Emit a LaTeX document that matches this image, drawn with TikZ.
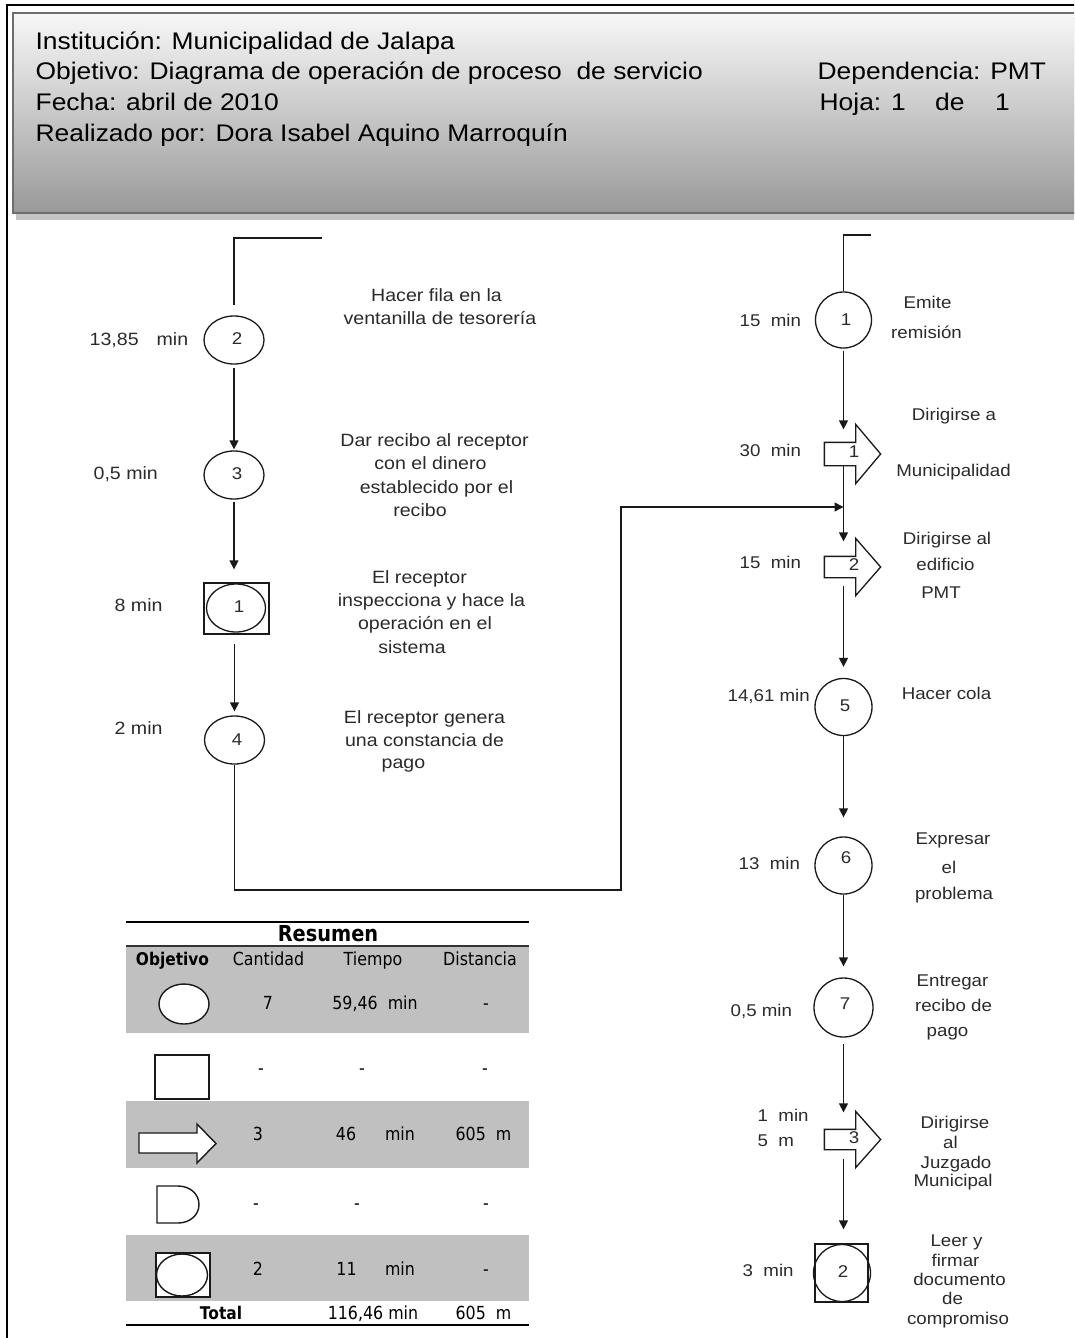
\documentclass[tikz,border=0pt]{standalone}
\usepackage{fontspec}
\setmainfont{Liberation Sans}[FakeStretch=1.1]
\newfontfamily\tabfont{DejaVu Sans}[FakeStretch=0.88]
\usetikzlibrary{shapes.geometric,arrows.meta,calc}

\definecolor{bandgray}{HTML}{C0C0C0}
\definecolor{ink}{HTML}{2A2A2A}

% block arrow (transport symbol): name, x, y, shaft height, number
\newcommand{\moveblock}[5]{%
  \node[shaft, minimum height=#4] (#1) at (#2,#3) {};
  \draw (#1.north east) -- (#1.north west) -- (#1.south west) -- (#1.south east)
        -- ++(0,18) -- ($(#1.east)+(25,0)$) -- ($(#1.north east)+(0,-18)$) -- cycle;
  \node[num] (#1n) at ($(#1.center)+(14,-2)$) {#5};
}

\begin{document}
\begin{tikzpicture}[x=1pt,y=-1pt,
  line width=1.3pt, draw=black!90,
  arr/.style={-{Triangle[length=9pt,width=9pt]}},
  oval/.style={ellipse,draw,minimum width=60pt,minimum height=48pt,inner sep=0pt},
  rnd/.style={circle,draw,minimum size=56pt,inner sep=0pt},
  boxop/.style={rectangle,draw,inner sep=0pt},
  shaft/.style={rectangle,minimum width=30pt,inner sep=0pt},
  num/.style={font=\fontsize{17}{20}\selectfont,inner sep=0pt,text=ink},
  hd/.style={font=\fontsize{24}{28}\selectfont,inner sep=0pt,anchor=base west},
  ldesc/.style={font=\fontsize{17.8}{21}\selectfont,inner sep=0pt,anchor=base,text=ink},
  rdesc/.style={font=\fontsize{17}{20}\selectfont,inner sep=0pt,anchor=base,text=ink},
  ltime/.style={font=\fontsize{17.8}{21}\selectfont,inner sep=0pt,anchor=base west,text=ink},
  rtime/.style={font=\fontsize{17}{20}\selectfont,inner sep=0pt,anchor=base west,text=ink},
  tb/.style={font=\tabfont\fontsize{18}{20}\selectfont,inner sep=0pt,anchor=base},
  tbb/.style={font=\tabfont\bfseries\fontsize{17.5}{20}\selectfont,inner sep=0pt,anchor=base},
  sym/.style={fill=white,line width=1.4pt}
]
\useasboundingbox (0,0) rectangle (1074,1338);
\clip (0,0) rectangle (1074,1338);

% ---------- page frame ----------
\draw[line width=2pt,black] (6.5,1345) -- (6.5,5) -- (1090,5);

% ---------- title block ----------
\fill[black!23] (16,17) rectangle (1090,219.5);
\shadedraw[top color=white!97!black, bottom color=black!40, draw=black!57, line width=2pt]
  (12.5,13) rectangle (1090,213);
\node[hd] (h1) at (35,49) {Institución: Municipalidad de Jalapa};
\node[hd] (h2) at (35,80) {Objetivo: Diagrama de operación de proceso\ \ de servicio};
\node[hd] (h3) at (35,110.5) {Fecha: abril de 2010};
\node[hd] (h4) at (35,141) {Realizado por: Dora Isabel Aquino Marroquín};
\node[hd] (h5) at (817,80) {Dependencia: PMT};
\node[hd] (h6) at (819,110.5) {Hoja: 1\hspace{29.5pt}de\hspace{30.5pt}1};

% ---------- left column ----------
\coordinate (ltop) at (322,238);
\node[oval] (l2) at (234,340) {};
\node[num] (l2n) at (237,339) {2};
\node[oval] (l3) at (234,475) {};
\node[num] (l3n) at (237,474) {3};
\node[boxop, minimum width=65pt, minimum height=51pt] (lsq) at (236.5,608.5) {};
\node[oval, minimum width=59pt, minimum height=48pt] (lsqc) at (236,608) {};
\node[num] (lsqn) at (239,607) {1};
\node[oval] (l4) at (234.5,740) {};
\node[num] (l4n) at (237,740) {4};
\coordinate (lbend) at (621,890);
\coordinate (join) at (843.5,507);

\draw[shorten >=10pt] (ltop) -| (l2.north);
\draw[arr, shorten <=3pt, shorten >=1pt] (l2.south) -- (l3.north);
\draw[arr, shorten <=2pt, shorten >=13pt] (l3.south) -- (l3.south |- lsq.north);
\draw[arr, shorten <=9pt, shorten >=4pt] (l4.north |- lsq.south) -- (l4.north);
\draw[arr] (l4.south) |- (lbend) |- (join);

\node[ltime] (tl2a) at (89,345) {13,85};
\node[ltime] (tl2b) at (156,345) {min};
\node[ltime] (tl3) at (93,479) {0,5 min};
\node[ltime] (tl1) at (114,611) {8 min};
\node[ltime] (tl4) at (114,734) {2 min};

\node[ldesc] (d1a) at (436.5,301) {Hacer fila en la};
\node[ldesc] (d1b) at (440,324) {ventanilla de tesorería};
\node[ldesc] (d2a) at (434.5,446) {Dar recibo al receptor};
\node[ldesc] (d2b) at (430.5,469) {con el dinero};
\node[ldesc] (d2c) at (436.5,493) {establecido por el};
\node[ldesc] (d2d) at (420,516) {recibo};
\node[ldesc] (d3a) at (419.5,583) {El receptor};
\node[ldesc] (d3b) at (431.5,606) {inspecciona y hace la};
\node[ldesc] (d3c) at (425,629) {operación en el};
\node[ldesc] (d3d) at (412,653) {sistema};
\node[ldesc] (d4a) at (424.5,723) {El receptor genera};
\node[ldesc] (d4b) at (424.5,746) {una constancia de};
\node[ldesc] (d4c) at (403.5,768) {pago};

% ---------- right column ----------
\coordinate (rtop) at (871,235);
\node[rnd] (r1) at (843.5,320) {};
\node[num] (r1n) at (846,320) {1};
\moveblock{t1}{840}{454}{22pt}{1}
\moveblock{t2}{840}{567}{20pt}{2}
\node[rnd, minimum size=57pt] (r5) at (843.5,707) {};
\node[num] (r5n) at (845,706) {5};
\node[rnd, minimum size=57pt] (r6) at (843.5,865.5) {};
\node[num] (r6n) at (846,858) {6};
\node[rnd, minimum size=59pt] (r7) at (843.5,1007.5) {};
\node[num] (r7n) at (845,1004) {7};
\moveblock{t3}{840}{1139.5}{19pt}{3}
\node[boxop, minimum width=53pt, minimum height=58pt] (rsq) at (841.5,1273) {};
\node[rnd, minimum size=57pt] (rsqc) at (842,1273) {};
\node[num] (rsqn) at (843,1272) {2};

\draw (rtop) -| (r1.north);
\draw[arr, shorten <=2pt, shorten >=13pt] (r1.south) -- (r1.south |- t1.north);
\draw[arr, shorten >=15pt] (t1.south -| r1.center) -- (t2.north -| r1.center);
\draw[arr, shorten <=8pt, shorten >=11pt] (t2.south -| r5.center) -- (r5.north);
\draw[arr, shorten >=19pt] (r5.south) -- (r6.north);
\draw[arr, shorten >=11pt] (r6.south) -- (r7.north);
\draw[arr, shorten <=6pt, shorten >=17pt] (r7.south) -- (r7.south |- t3.north);
\draw[arr, shorten <=9pt, shorten >=14pt] (t3.south -| r7.center) -- (r7.center |- rsq.north);

\node[rtime] (tr1) at (739,326) {15\ \ min};
\node[rtime] (tr2) at (739,456) {30\ \ min};
\node[rtime] (tr3) at (739,568) {15\ \ min};
\node[rtime] (tr4) at (727,701) {14,61 min};
\node[rtime] (tr5) at (738,869) {13\ \ min};
\node[rtime] (tr6) at (730,1016) {0,5 min};
\node[rtime] (tr7a) at (757,1121) {1\ \ min};
\node[rtime] (tr7b) at (757,1146) {5\ \ m};
\node[rtime] (tr8) at (742,1276) {3\ \ min};

\node[rdesc] (e1a) at (927.5,308) {Emite};
\node[rdesc] (e1b) at (926.5,338) {remisión};
\node[rdesc] (e2a) at (954,420) {Dirigirse a};
\node[rdesc] (e2b) at (953.5,476) {Municipalidad};
\node[rdesc] (e3a) at (947,544) {Dirigirse al};
\node[rdesc] (e3b) at (945.5,570) {edificio};
\node[rdesc] (e3c) at (941,598) {PMT};
\node[rdesc] (e4) at (946.5,699) {Hacer cola};
\node[rdesc] (e5a) at (953,844) {Expresar};
\node[rdesc] (e5b) at (949,873) {el};
\node[rdesc] (e5c) at (954,899) {problema};
\node[rdesc] (e6a) at (952.5,986) {Entregar};
\node[rdesc] (e6b) at (953.5,1011) {recibo de};
\node[rdesc] (e6c) at (947.5,1036) {pago};
\node[rdesc] (e7a) at (955,1128) {Dirigirse};
\node[rdesc] (e7b) at (950.5,1148) {al};
\node[rdesc] (e7c) at (956,1168) {Juzgado};
\node[rdesc] (e7d) at (953,1186) {Municipal};
\node[rdesc] (e8a) at (956.5,1246) {Leer y};
\node[rdesc] (e8b) at (955.5,1266) {firmar};
\node[rdesc] (e8c) at (959.5,1285) {documento};
\node[rdesc] (e8d) at (952.5,1304) {de};
\node[rdesc] (e8e) at (958,1324) {compromiso};

% ---------- summary table ----------
\fill[bandgray] (126,946) rectangle (529,1033);
\fill[bandgray] (126,1101) rectangle (529,1168);
\fill[bandgray] (126,1235) rectangle (529,1301);
\draw[line width=1.5pt,black] (126,922) -- (529,922);
\draw[line width=2pt,black!80] (126,946) -- (529,946);
\draw[line width=2pt,black] (126,1325) -- (529,1325);

\node[font=\tabfont\bfseries\fontsize{22}{24}\selectfont,inner sep=0pt,anchor=base] (res) at (328,941) {Resumen};
\node[tbb] (c1) at (172.5,965.5) {Objetivo};
\node[tb] (c2) at (268.5,965.5) {Cantidad};
\node[tb] (c3) at (373,965.5) {Tiempo};
\node[tb] (c4) at (480,965.5) {Distancia};

% row symbols
\filldraw[sym] (184,1004) ellipse [x radius=25, y radius=20];
\filldraw[sym] (155,1055) rectangle (209,1099);
\filldraw[sym] (139,1133) -- (197,1133) -- (197,1124) -- (216,1143.5) -- (197,1163) -- (197,1153) -- (139,1153) -- cycle;
\filldraw[sym] (157,1186) -- (178,1186) .. controls (190,1186) and (199,1194) .. (199,1204.5)
   .. controls (199,1215) and (190,1223) .. (178,1223) -- (157,1223) -- cycle;
\filldraw[sym] (156,1253) rectangle (210,1297);
\draw[line width=1.4pt] (182,1275) ellipse [x radius=25.5, y radius=21];

\node[tb] (v11) at (268,1009.5) {7};
\node[tb] (v12) at (375,1009.5) {59,46\ \ min};
\node[tb] (v13) at (486,1009.5) {-};
\node[tb] (v21) at (261,1074.5) {-};
\node[tb] (v22) at (362,1074.5) {-};
\node[tb] (v23) at (485,1074.5) {-};
\node[tb] (v31) at (258,1140.5) {3};
\node[tb] (v32a) at (346,1140.5) {46};
\node[tb] (v32b) at (400,1140.5) {min};
\node[tb] (v33) at (483.5,1140.5) {605\ \ m};
\node[tb] (v41) at (256,1209.5) {-};
\node[tb] (v42) at (357,1209.5) {-};
\node[tb] (v43) at (486,1209.5) {-};
\node[tb] (v51) at (258,1275.5) {2};
\node[tb] (v52a) at (346.5,1275.5) {11};
\node[tb] (v52b) at (400,1275.5) {min};
\node[tb] (v53) at (486,1275.5) {-};
\node[tbb] (tot) at (221,1319.5) {Total};
\node[tb] (tot2) at (373,1319.5) {116,46 min};
\node[tb] (tot3) at (483.5,1319.5) {605\ \ m};
\end{tikzpicture}
\end{document}
